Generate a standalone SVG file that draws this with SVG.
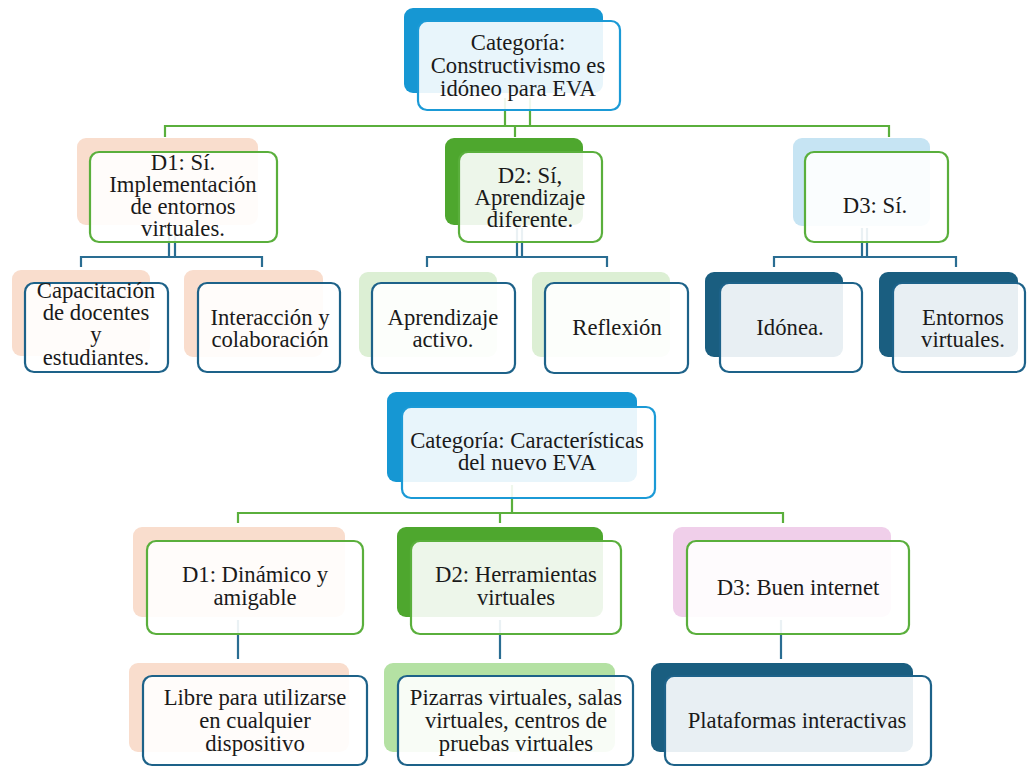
<svg xmlns="http://www.w3.org/2000/svg" width="1027" height="767" viewBox="0 0 1027 767">
<style>
.bk{stroke:none}
.fr{fill:#ffffff;fill-opacity:0.9;stroke-width:2.2}
.fg{stroke:#5AAF3C}
.fb{stroke:#1D6289}
.fc{stroke:#1B9AD6}
.t{font-size:22.7px;fill:#1a1a1a;text-anchor:middle}
.cg{stroke:#5AAF3C;stroke-width:2.2;fill:none}
.cb{stroke:#2A6D92;stroke-width:2.2;fill:none}
.peach{fill:#F9DDCD}
.dkg{fill:#4EA72E}
.ltg{fill:#DCEFD4}
.ltb{fill:#C6E4F3}
.dkb{fill:#1A5E80}
.blu{fill:#1697D3}
.pink{fill:#F0CFEA}
.mg{fill:#B4E1A3}
</style>
<rect width="1027" height="767" fill="#ffffff"/>
<g id="connectors">
<path class="cg" d="M505,98 V126 M530,98 V126 M165,137 V126 H889 V137 M515,126 V137"/>
<path class="cb" d="M169,228 V257 M175,228 V257 M81,267 V257 H262 V267"/>
<path class="cb" d="M517,228 V257 M522,228 V257 M427,267 V257 H607 V267"/>
<path class="cb" d="M862,228 V257 M867,228 V257 M774,267 V257 H956 V267"/>
<path class="cg" d="M512,485 V513 M238,523 V513 H783 V523 M500,513 V523"/>
<path class="cb" d="M238,620 V659 M500,620 V659 M781,620 V659"/>
</g>
<g font-family="Liberation Serif, serif">
<g id="cat1">
<rect class="bk blu" x="404" y="8" width="199" height="85" rx="9"/>
<rect class="fr fc" x="418" y="21" width="202" height="89" rx="9"/>
<text class="t" x="518" y="50">Categoría:</text>
<text class="t" x="518" y="73">Constructivismo es</text>
<text class="t" x="518" y="96">idóneo para EVA</text>
</g>
<g id="d1">
<rect class="bk peach" x="77" y="138" width="181" height="87" rx="9"/>
<rect class="fr fg" x="90" y="152" width="187" height="90" rx="9"/>
<text class="t" x="183" y="170">D1: Sí.</text>
<text class="t" x="183" y="192">Implementación</text>
<text class="t" x="183" y="214">de entornos</text>
<text class="t" x="183" y="236">virtuales.</text>
</g>
<g id="d2">
<rect class="bk dkg" x="445" y="138" width="138" height="87" rx="9"/>
<rect class="fr fg" x="459" y="152" width="143" height="90" rx="9"/>
<text class="t" x="530" y="183">D2: Sí,</text>
<text class="t" x="530" y="205">Aprendizaje</text>
<text class="t" x="530" y="227">diferente.</text>
</g>
<g id="d3">
<rect class="bk ltb" x="793" y="138" width="137" height="88" rx="9"/>
<rect class="fr fg" x="805" y="152" width="143" height="90" rx="9"/>
<text class="t" x="875" y="213">D3: Sí.</text>
</g>
<g id="l11">
<rect class="bk peach" x="12" y="270" width="138" height="86" rx="9"/>
<rect class="fr fb" x="25" y="283" width="143" height="89" rx="9"/>
<text class="t" x="96" y="298">Capacitación</text>
<text class="t" x="96" y="320">de docentes</text>
<text class="t" x="96" y="342">y</text>
<text class="t" x="96" y="365">estudiantes.</text>
</g>
<g id="l12">
<rect class="bk peach" x="184" y="270" width="139" height="87" rx="9"/>
<rect class="fr fb" x="198" y="283" width="142" height="89" rx="9"/>
<text class="t" x="270" y="325">Interacción y</text>
<text class="t" x="270" y="347">colaboración</text>
</g>
<g id="l21">
<rect class="bk ltg" x="359" y="272" width="138" height="85" rx="9"/>
<rect class="fr fb" x="372" y="283" width="143" height="90" rx="9"/>
<text class="t" x="443" y="325">Aprendizaje</text>
<text class="t" x="443" y="347">activo.</text>
</g>
<g id="l22">
<rect class="bk ltg" x="532" y="272" width="138" height="85" rx="9"/>
<rect class="fr fb" x="545" y="283" width="143" height="90" rx="9"/>
<text class="t" x="617" y="335">Reflexión</text>
</g>
<g id="l31">
<rect class="bk dkb" x="705" y="272" width="138" height="85" rx="9"/>
<rect class="fr fb" x="720" y="283" width="142" height="89" rx="9"/>
<text class="t" x="790" y="335">Idónea.</text>
</g>
<g id="l32">
<rect class="bk dkb" x="879" y="272" width="139" height="85" rx="9"/>
<rect class="fr fb" x="893" y="283" width="132" height="89" rx="9"/>
<text class="t" x="963" y="325">Entornos</text>
<text class="t" x="963" y="347">virtuales.</text>
</g>
<g id="cat2">
<rect class="bk blu" x="387" y="392" width="250" height="90" rx="9"/>
<rect class="fr fc" x="402" y="407" width="253" height="91" rx="9"/>
<text class="t" x="527" y="448">Categoría: Características</text>
<text class="t" x="527" y="470">del nuevo EVA</text>
</g>
<g id="b1">
<rect class="bk peach" x="133" y="527" width="212" height="90" rx="9"/>
<rect class="fr fg" x="147" y="541" width="216" height="93" rx="9"/>
<text class="t" x="255" y="582">D1: Dinámico y</text>
<text class="t" x="255" y="605">amigable</text>
</g>
<g id="b2">
<rect class="bk dkg" x="397" y="527" width="206" height="90" rx="9"/>
<rect class="fr fg" x="411" y="541" width="210" height="93" rx="9"/>
<text class="t" x="516" y="582">D2: Herramientas</text>
<text class="t" x="516" y="605">virtuales</text>
</g>
<g id="b3">
<rect class="bk pink" x="673" y="527" width="218" height="90" rx="9"/>
<rect class="fr fg" x="687" y="541" width="222" height="93" rx="9"/>
<text class="t" x="798" y="595">D3: Buen internet</text>
</g>
<g id="bl1">
<rect class="bk peach" x="129" y="663" width="220" height="89" rx="9"/>
<rect class="fr fb" x="143" y="676" width="224" height="89" rx="9"/>
<text class="t" x="255" y="705">Libre para utilizarse</text>
<text class="t" x="255" y="728">en cualquier</text>
<text class="t" x="255" y="751">dispositivo</text>
</g>
<g id="bl2">
<rect class="bk mg" x="384" y="663" width="231" height="89" rx="9"/>
<rect class="fr fb" x="398" y="676" width="235" height="89" rx="9"/>
<text class="t" x="516" y="705">Pizarras virtuales, salas</text>
<text class="t" x="516" y="728">virtuales, centros de</text>
<text class="t" x="516" y="751">pruebas virtuales</text>
</g>
<g id="bl3">
<rect class="bk dkb" x="651" y="663" width="262" height="89" rx="9"/>
<rect class="fr fb" x="665" y="676" width="266" height="89" rx="9"/>
<text class="t" x="797" y="728">Plataformas interactivas</text>
</g>
</g>
</svg>
